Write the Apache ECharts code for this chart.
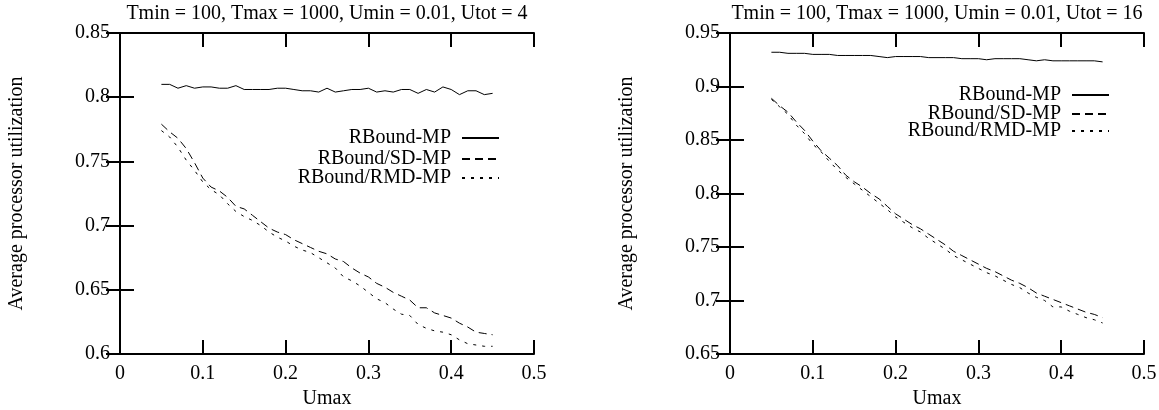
<!DOCTYPE html>
<html>
<head>
<meta charset="utf-8">
<script src="https://cdn.jsdelivr.net/npm/echarts@6/dist/echarts.min.js"></script>
<style>
  html, body { margin: 0; padding: 0; background: #fff; }
  #chart { width: 1159px; height: 410px; }
</style>
</head>
<body>
<div id="chart"></div>
<script>
var umax = [0.05, 0.06, 0.07, 0.08, 0.09, 0.10, 0.11, 0.12, 0.13, 0.14,
  0.15, 0.16, 0.17, 0.18, 0.19, 0.20, 0.21, 0.22, 0.23, 0.24,
  0.25, 0.26, 0.27, 0.28, 0.29, 0.30, 0.31, 0.32, 0.33, 0.34,
  0.35, 0.36, 0.37, 0.38, 0.39, 0.40, 0.41, 0.42, 0.43, 0.44, 0.45];

// Utot = 4
var mp4 = [0.810, 0.810, 0.807, 0.809, 0.807, 0.808, 0.808, 0.807, 0.807, 0.809,
  0.806, 0.806, 0.806, 0.806, 0.807, 0.807, 0.806, 0.805, 0.805, 0.804,
  0.807, 0.804, 0.805, 0.806, 0.806, 0.807, 0.804, 0.805, 0.804, 0.806,
  0.806, 0.803, 0.806, 0.804, 0.808, 0.806, 0.802, 0.805, 0.805, 0.802, 0.803];
var sd4 = [0.779, 0.773, 0.768, 0.760, 0.749, 0.737, 0.730, 0.727, 0.722, 0.715,
  0.713, 0.708, 0.703, 0.698, 0.695, 0.693, 0.689, 0.686, 0.683, 0.680,
  0.678, 0.674, 0.672, 0.667, 0.663, 0.660, 0.655, 0.652, 0.648, 0.645,
  0.642, 0.636, 0.636, 0.632, 0.630, 0.628, 0.624, 0.621, 0.617, 0.616, 0.615];
var rmd4 = [0.774, 0.769, 0.761, 0.751, 0.743, 0.734, 0.728, 0.724, 0.717, 0.711,
  0.707, 0.704, 0.700, 0.695, 0.691, 0.688, 0.684, 0.681, 0.679, 0.675,
  0.671, 0.667, 0.660, 0.657, 0.653, 0.648, 0.643, 0.640, 0.635, 0.631,
  0.630, 0.623, 0.620, 0.618, 0.617, 0.615, 0.611, 0.608, 0.607, 0.606, 0.606];

// Utot = 16
var mp16 = [0.932, 0.932, 0.931, 0.931, 0.931, 0.930, 0.930, 0.930, 0.929, 0.929,
  0.929, 0.929, 0.929, 0.928, 0.927, 0.928, 0.928, 0.928, 0.928, 0.927,
  0.927, 0.927, 0.927, 0.926, 0.926, 0.926, 0.925, 0.926, 0.926, 0.926,
  0.926, 0.925, 0.924, 0.925, 0.924, 0.924, 0.924, 0.924, 0.924, 0.924, 0.923];
var sd16 = [0.889, 0.882, 0.876, 0.867, 0.859, 0.849, 0.840, 0.833, 0.826, 0.817,
  0.811, 0.806, 0.800, 0.795, 0.788, 0.781, 0.776, 0.771, 0.767, 0.762,
  0.757, 0.752, 0.746, 0.742, 0.738, 0.734, 0.730, 0.727, 0.723, 0.719,
  0.716, 0.712, 0.707, 0.704, 0.701, 0.698, 0.695, 0.692, 0.689, 0.687, 0.684];
var rmd16 = [0.888, 0.881, 0.874, 0.864, 0.856, 0.846, 0.839, 0.830, 0.822, 0.815,
  0.809, 0.803, 0.797, 0.791, 0.785, 0.778, 0.773, 0.768, 0.764, 0.758,
  0.753, 0.748, 0.742, 0.738, 0.734, 0.730, 0.726, 0.723, 0.719, 0.715,
  0.712, 0.707, 0.703, 0.700, 0.694, 0.694, 0.690, 0.687, 0.684, 0.682, 0.679];

var names = ['RBound-MP', 'RBound/SD-MP', 'RBound/RMD-MP'];
var titles = ['Tmin = 100, Tmax = 1000, Umin = 0.01, Utot = 4',
  'Tmin = 100, Tmax = 1000, Umin = 0.01, Utot = 16'];

var font = "'Liberation Serif', 'DejaVu Serif', serif";
var dashes = ['solid', [8, 5], [3, 6]];

function fmt(v) { return String(Math.round(v * 100) / 100); }

function pairs(vals) {
  return vals.map(function (v, i) { return [umax[i], v]; });
}

function xAx(grid, pos) {
  return {
    type: 'value', gridIndex: grid, position: pos, min: 0, max: 0.5, interval: 0.1,
    name: pos === 'bottom' ? 'Umax' : '', nameLocation: 'middle', nameGap: 25,
    nameTextStyle: { fontFamily: font, fontSize: 20, color: '#000' },
    axisLine: { show: true, lineStyle: { color: '#000', width: 2 } },
    axisTick: { show: true, inside: true, length: 14, lineStyle: { color: '#000', width: 2 } },
    axisLabel: { show: pos === 'bottom', formatter: fmt, margin: 10,
      fontFamily: font, fontSize: 20, color: '#000' },
    splitLine: { show: false }
  };
}

function yAx(grid, pos, min, max) {
  return {
    type: 'value', gridIndex: grid, position: pos, min: min, max: max, interval: 0.05,
    name: pos === 'left' ? 'Average processor utilization' : '',
    nameLocation: 'middle', nameGap: 93,
    nameTextStyle: { fontFamily: font, fontSize: 20, color: '#000' },
    axisLine: { show: true, lineStyle: { color: '#000', width: 2 } },
    axisTick: { show: true, inside: true, length: 14, lineStyle: { color: '#000', width: 2 } },
    axisLabel: { show: pos === 'left', formatter: fmt, margin: 10,
      fontFamily: font, fontSize: 20, color: '#000' },
    splitLine: { show: false }
  };
}

function line(name, idx, grid, vals) {
  return {
    name: name, type: 'line', xAxisIndex: grid * 2, yAxisIndex: grid * 2,
    data: pairs(vals), symbol: 'none', showSymbol: false, animation: false,
    lineStyle: { color: '#000', width: 1, type: dashes[idx] },
    itemStyle: { color: '#000' }
  };
}

function legendFor(name, right, top) {
  return {
    data: [name], right: right, top: top, orient: 'vertical', align: 'right',
    padding: 0, itemWidth: 37, itemHeight: 10, selectedMode: false,
    itemStyle: { opacity: 0 },
    textStyle: { fontFamily: font, fontSize: 20, color: '#000', padding: [0, 6, 0, 0] }
  };
}

var chart = echarts.init(document.getElementById('chart'));
chart.setOption({
  animation: false,
  backgroundColor: '#fff',
  title: [
    { text: titles[0], left: 327, top: 4, textAlign: 'center', padding: 0,
      textStyle: { fontFamily: font, fontSize: 20, fontWeight: 'normal', color: '#000' } },
    { text: titles[1], left: 937, top: 4, textAlign: 'center', padding: 0,
      textStyle: { fontFamily: font, fontSize: 20, fontWeight: 'normal', color: '#000' } }
  ],
  grid: [
    { left: 120, top: 33, width: 414, height: 321, outerBoundsMode: 'none', containLabel: false },
    { left: 730, top: 33, width: 414, height: 321, outerBoundsMode: 'none', containLabel: false }
  ],
  xAxis: [xAx(0, 'bottom'), xAx(0, 'top'), xAx(1, 'bottom'), xAx(1, 'top')],
  yAxis: [yAx(0, 'left', 0.6, 0.85), yAx(0, 'right', 0.6, 0.85),
    yAx(1, 'left', 0.65, 0.95), yAx(1, 'right', 0.65, 0.95)],
  legend: [
    legendFor(names[0], 659, 128), legendFor(names[1], 659, 149), legendFor(names[2], 659, 168),
    legendFor(names[0], 49, 85), legendFor(names[1], 49, 104), legendFor(names[2], 49, 121)
  ],
  series: [
    line(names[0], 0, 0, mp4), line(names[1], 1, 0, sd4), line(names[2], 2, 0, rmd4),
    line(names[0], 0, 1, mp16), line(names[1], 1, 1, sd16), line(names[2], 2, 1, rmd16)
  ]
});
</script>
</body>
</html>
